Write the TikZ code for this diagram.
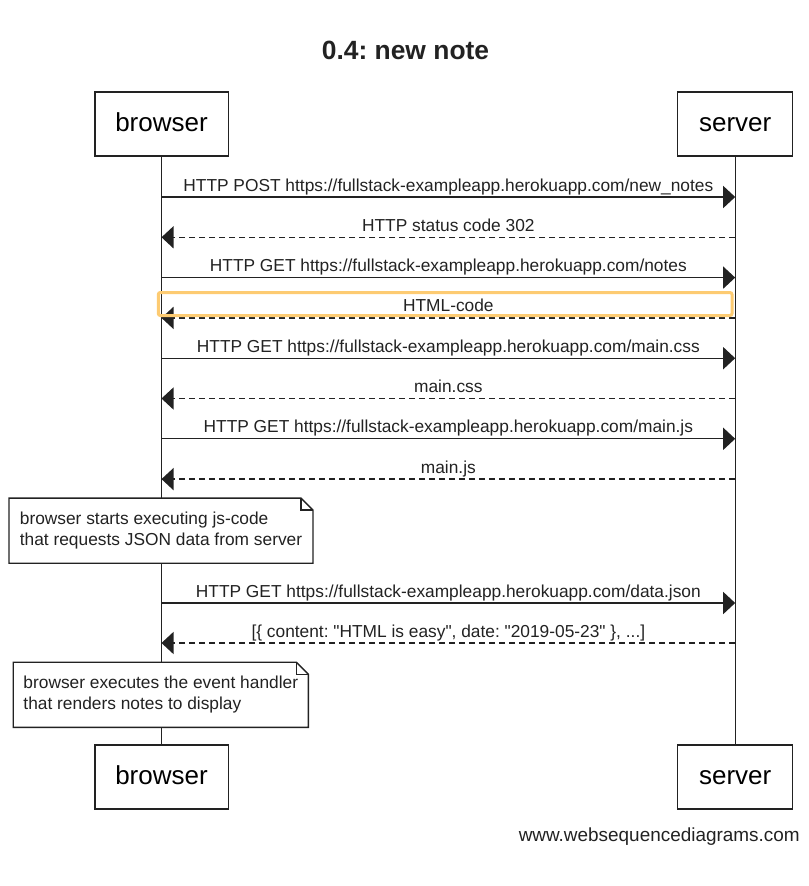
\documentclass[tikz,border=0pt]{standalone}
\usepackage{fontspec}
\setmainfont{Liberation Sans}[Ligatures=TeXOff]
\usetikzlibrary{arrows.meta,positioning}
\definecolor{ink}{HTML}{222222}
\definecolor{hilite}{HTML}{FDCB72}
\tikzset{
  actor/.style={draw=ink, line width=1pt, fill=white, minimum height=48pt, text height=14pt, text depth=3.5pt, font=\fontsize{19.5}{22}\selectfont},
  msg/.style={->, draw=ink, line width=1pt},
  reply/.style={msg, dash pattern=on 4.5pt off 3pt},
  lbl/.style={anchor=base, inner sep=0pt, yshift=4.5pt, text=ink, font=\fontsize{13}{15}\selectfont},
  note/.style={fill=white, align=left, inner xsep=7.5pt, minimum height=48.5pt, text=ink, font=\fontsize{13}{15.5}\selectfont},
}
\newcommand\foldnote[1]{%
  \draw[ink, line width=1pt] (#1.south west) -- (#1.north west) -- ([xshift=-9pt]#1.north east)
    -- ([yshift=-9pt]#1.north east) -- (#1.south east) -- cycle;
  \draw[ink, line width=1pt] ([xshift=-9pt]#1.north east) |- ([yshift=-9pt]#1.north east);}
\begin{document}
\frenchspacing
\begin{tikzpicture}[x=0.75pt, y=-0.75pt, >={Triangle[length=9pt,width=16.5pt]}]
\useasboundingbox (0,0) rectangle (809,886);
\node[font=\bfseries\fontsize{19.8}{24}\selectfont, text=ink] (title) at (405.5,50) {0.4: new note};

% participants
\node[actor, minimum width=100pt] (browser) at (161.5,124) {browser};
\node[actor, minimum width=86.25pt] (server) at (735.2,124) {server};
\node[actor, minimum width=100pt] (browser2) at (161.5,777) {browser};
\node[actor, minimum width=86.25pt] (server2) at (735.2,777) {server};
\draw[ink, line width=1pt] (browser) -- (browser2);
\draw[ink, line width=1pt] (server) -- (server2);

% message levels on the lifelines
\foreach \y [count=\i] in {197,237.3,277.6,317.9,358.2,398.5,438.8,479.1,603,643}{
  \coordinate (b\i) at (161.5,\y);
  \coordinate (s\i) at (735.2,\y);
}

\draw[msg] (b1) -- node[lbl]{HTTP POST https://fullstack-exampleapp.herokuapp.com/new\_notes} (s1);
\draw[reply] (s2) -- node[lbl]{HTTP status code 302} (b2);
\draw[msg] (b3) -- node[lbl]{HTTP GET https://fullstack-exampleapp.herokuapp.com/notes} (s3);
\draw[reply] (s4) -- node[lbl]{HTML-code} (b4);
\draw[hilite, line width=2.25pt, rounded corners=1.5pt] (158.3,292.5) rectangle (732,315.5);
\draw[msg] (b5) -- node[lbl]{HTTP GET https://fullstack-exampleapp.herokuapp.com/main.css} (s5);
\draw[reply] (s6) -- node[lbl]{main.css} (b6);
\draw[msg] (b7) -- node[lbl]{HTTP GET https://fullstack-exampleapp.herokuapp.com/main.js} (s7);
\draw[reply] (s8) -- node[lbl]{main.js} (b8);

\node[note, minimum width=227.5pt] (note1) at (161,530.7) {browser starts executing js-code\\that requests JSON data from server};
\foldnote{note1}

\draw[msg] (b9) -- node[lbl]{HTTP GET https://fullstack-exampleapp.herokuapp.com/data.json} (s9);
\draw[reply] (s10) -- node[lbl]{[\{ content: "HTML is easy", date: "2019-05-23" \}, ...]} (b10);

\node[note, minimum width=218.8pt] (note2) at (160.8,694.8) {browser executes the event handler\\that renders notes to display};
\foldnote{note2}

\node[anchor=base east, inner sep=0pt, text=ink, font=\fontsize{14.2}{17}\selectfont] (footer) at (800,841.5) {www.websequencediagrams.com};
\end{tikzpicture}
\end{document}
